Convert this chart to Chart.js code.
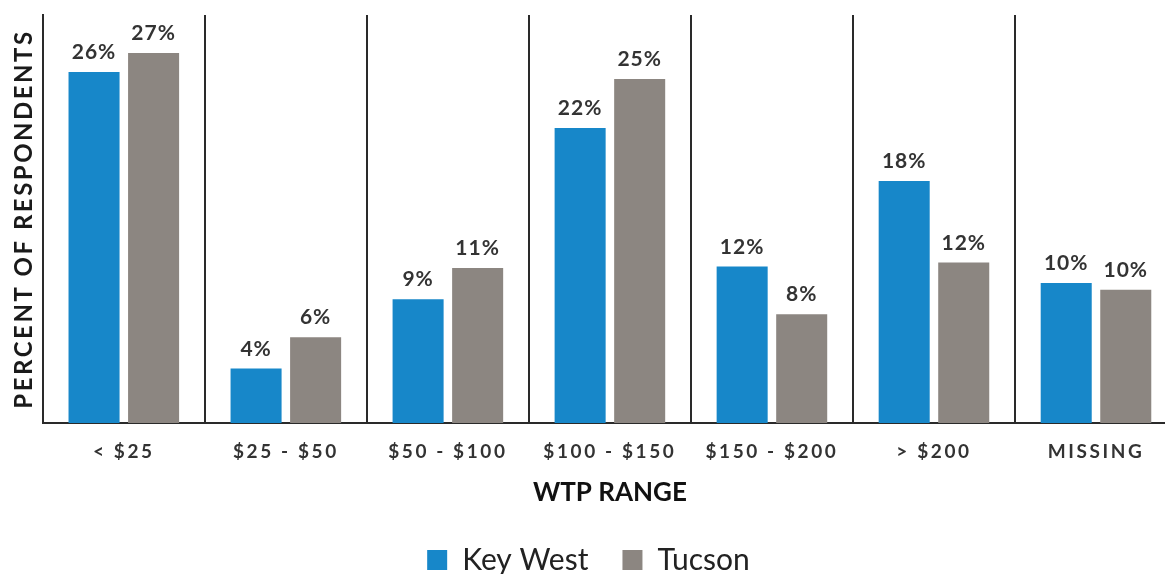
<!DOCTYPE html>
<html>
<head>
<meta charset="utf-8">
<title>WTP range</title>
<script src="https://cdn.jsdelivr.net/npm/chart.js@4.4.1/dist/chart.umd.min.js"></script>
<style>
  html, body { margin: 0; padding: 0; background: #fff; overflow: hidden; }
  #wrap { width: 1177px; height: 574px; }
</style>
</head>
<body>
<div id="wrap"><canvas id="wtpChart" width="1177" height="574"></canvas></div>
<script>
// WTP ranges and share of respondents (%)
const categories = ['< $25', '$25 - $50', '$50 - $100', '$100 - $150', '$150 - $200', '> $200', 'MISSING'];
const keyWest = [25.8, 4.0, 9.1, 21.7, 11.5, 17.8, 10.3];
const tucson = [27.2, 6.3, 11.4, 25.3, 8.0, 11.8, 9.8];
// printed labels above the bars
const keyWestLabels = ['26%', '4%', '9%', '22%', '12%', '18%', '10%'];
const tucsonLabels = ['27%', '6%', '11%', '25%', '8%', '12%', '10%'];

Chart.defaults.font.family = 'Lato, "Open Sans", sans-serif';

// draws the % text above each bar
const barLabels = {
  id: 'barLabels',
  afterDatasetsDraw(chart) {
    const ctx = chart.ctx;
    ctx.save();
    ctx.font = 'bold 21px Lato';
    ctx.letterSpacing = '1px';
    ctx.fillStyle = '#333';
    ctx.textAlign = 'center';
    ctx.textBaseline = 'alphabetic';
    chart.data.datasets.forEach((ds, i) => {
      chart.getDatasetMeta(i).data.forEach((bar, j) => {
        ctx.fillText(ds.valueLabels[j], bar.x, bar.y - 13);
      });
    });
    ctx.restore();
  }
};

// the original uses tracked (spaced out) caps for the tick labels and y title
const spacedText = {
  id: 'spacedText',
  afterLayout(chart) {
    const xs = chart.scales.x, ys = chart.scales.y;
    if (!xs._spaced) {
      const draw = xs.drawLabels;
      xs.drawLabels = function (area) {
        this.ctx.save(); this.ctx.letterSpacing = '2.6px';
        draw.call(this, area);
        this.ctx.restore();
      };
      xs._spaced = true;
    }
    if (!ys._spaced) {
      const draw = ys.drawTitle;
      ys.drawTitle = function () {
        this.ctx.save(); this.ctx.letterSpacing = '2.5px';
        draw.call(this);
        this.ctx.restore();
      };
      ys._spaced = true;
    }
  }
};

const ctx = document.getElementById('wtpChart').getContext('2d');
const wtpChart = new Chart(ctx, {
  type: 'bar',
  data: {
    labels: categories,
    datasets: [
      { label: 'Key West', data: keyWest, valueLabels: keyWestLabels, backgroundColor: '#1787c9' },
      { label: 'Tucson', data: tucson, valueLabels: tucsonLabels, backgroundColor: '#8c8681' }
    ]
  },
  options: {
    responsive: false,
    animation: false,
    categoryPercentage: 0.735,
    barPercentage: 0.857,
    layout: { padding: { top: 15, left: 0, right: 0, bottom: -11 } },
    plugins: {
      tooltip: { enabled: false },
      legend: {
        position: 'bottom',
        labels: {
          boxWidth: 20, boxHeight: 20, padding: 34,
          color: '#222',
          font: { size: 30 }
        }
      }
    },
    scales: {
      x: {
        grid: { offset: true, color: '#2a2a2a', lineWidth: 2, drawTicks: false },
        border: { color: '#2a2a2a', width: 2 },
        ticks: {
          color: '#333', padding: 19, autoSkip: false, maxRotation: 0,
          font: { size: 19, weight: 'bold', lineHeight: 1 }
        },
        title: {
          display: true, text: 'WTP RANGE', color: '#111',
          font: { size: 26, weight: 'bold', lineHeight: 1 },
          padding: { top: 0, bottom: 5 }
        }
      },
      y: {
        min: 0, max: 30,
        grid: { display: false, drawTicks: false },
        border: { color: '#2a2a2a', width: 2 },
        ticks: { display: false },
        title: {
          display: true, text: 'PERCENT OF RESPONDENTS', color: '#1a1a1a',
          font: { size: 24, weight: 'bold' },
          padding: { top: 10, bottom: 4 }
        }
      }
    }
  },
  plugins: [barLabels, spacedText]
});
</script>
</body>
</html>
